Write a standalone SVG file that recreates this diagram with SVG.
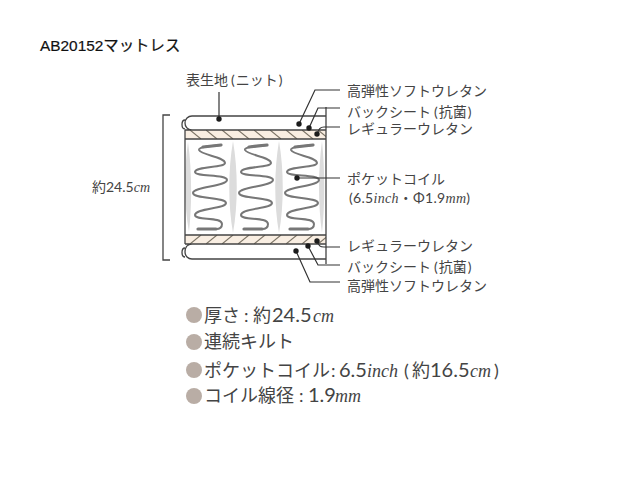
<svg xmlns="http://www.w3.org/2000/svg" width="640" height="480" viewBox="0 0 640 480">
<style>
.t{font-family:"Lato","Noto Sans CJK JP",sans-serif;font-weight:400;fill:#444;font-size:14px}
.w{letter-spacing:.3px}
.b{font-size:18px;fill:#444}
.n{font-size:20px}
.u{font-family:"Liberation Serif",serif;font-style:italic;font-weight:400}
.l{fill:none;stroke:#333;stroke-width:1.2}
.f{fill:none;stroke:#444;stroke-width:1.3}
.c{fill:none;stroke:#777;stroke-width:2}
.e{fill:none;stroke:#777;stroke-width:3.2;stroke-linecap:round}
.d{fill:#1c1c1c}
.s{fill:#dcdcdc}
.o{fill:#b9ada5}
</style>
<defs>
<pattern id="h1" width="16" height="9" patternUnits="userSpaceOnUse" patternTransform="translate(190 130)"><rect width="16" height="9" fill="#f9eee2"/><path d="M0 0L11 9" stroke="#7a7264" stroke-width="1.1"/></pattern>
<pattern id="h2" width="16" height="9" patternUnits="userSpaceOnUse" patternTransform="translate(190 235)"><rect width="16" height="9" fill="#f9eee2"/><path d="M0 9L11 0" stroke="#7a7264" stroke-width="1.1"/></pattern>
<g id="coil"><path class="c" d="M222 145C210 146 198 147 199 150C201 155 225 157 225 163C225 168 195 166 195 172C195 177 227 174 227 180C227 186 193 187 193 193C193 199 226 197 226 203C226 209 195 208 195 215C195 221 222 216 222 224C222 227 220 229 216 229"/><path class="e" d="M203 147L221 145M198 229L216 229"/></g>
</defs>
<g id="title"><text x="40" y="51" font-family="'Liberation Sans','Noto Sans CJK JP',sans-serif" font-size="15.4" fill="#111" stroke="#111" stroke-width=".2">AB20152マットレス</text></g>
<g id="mattress">
<rect x="185" y="130" width="141" height="114" fill="#fff"/>
<path class="s" d="M188 142C184 170 184 205 189 232C192 205 192 170 188 142ZM233 141C228 170 228 205 233 233C238 205 238 170 233 141ZM279 141C274 170 274 205 279 233C284 205 284 170 279 141ZM322 141C318 170 318 205 322 233C325 205 325 170 322 141Z"/>
<use href="#coil"/><use href="#coil" x="46"/><use href="#coil" x="92"/>
<rect x="185" y="130" width="141" height="9" fill="url(#h1)"/>
<rect x="185" y="235" width="141" height="9" fill="url(#h2)"/>
<path class="f" d="M326 130H192C187 130 185 126 185 123C185 119 188 116 192 116H326M185 130V244M326 107V264M185 130H326M185 139H326M185 235H326M185 244H326M326 259H192C188 259 185 256 185 252C185 248 187 244 192 244"/>
<path class="f" d="M185 120C181 120 181 129 185 129M185 248C181 248 181 257 185 257"/>
</g>
<g id="dimension"><path d="M170 115H163V260H170" fill="none" stroke="#444" stroke-width="1.3"/><text class="t" x="92" y="192">約24.5<tspan class="u">cm</tspan></text></g>
<g id="connectors">
<path class="l" d="M219 92V119"/><path class="l" d="M299 124L315 90H340"/><path class="l" d="M309 128L318 108H340"/><path class="l" d="M317 134C319 129 320 127 324 127H340"/>
<path class="l" d="M297 178H340"/>
<path class="l" d="M317 241C319 246 320 247 324 247H340"/><path class="l" d="M308 246L318 265H340"/><path class="l" d="M296 251L310 282H340"/>
<circle class="d" cx="219" cy="119" r="2.7"/><circle class="d" cx="299" cy="124" r="2.7"/><circle class="d" cx="309" cy="128" r="2.7"/><circle class="d" cx="317" cy="134" r="2.7"/><circle class="d" cx="297" cy="178" r="2.7"/><circle class="d" cx="317" cy="241" r="2.7"/><circle class="d" cx="308" cy="246" r="2.7"/><circle class="d" cx="296" cy="251" r="2.7"/>
</g>
<g id="labels">
<text class="t" x="186" y="85">表生地<tspan dx="3">(</tspan><tspan dx="1">ニット</tspan><tspan dx="1">)</tspan></text>
<text class="t" x="347" y="96">高弾性ソフトウレタン</text>
<text class="t" x="347" y="117">バックシート<tspan dx="3">(</tspan><tspan dx="1">抗菌</tspan><tspan dx="1">)</tspan></text>
<text class="t" x="347" y="134">レギュラーウレタン</text>
<text class="t" x="347" y="184">ポケットコイル</text>
<text class="t w" x="349" y="203">(6.5<tspan class="u">inch</tspan>・Φ1.9<tspan class="u">mm</tspan>)</text>
<text class="t" x="347" y="251">レギュラーウレタン</text>
<text class="t" x="347" y="272">バックシート<tspan dx="3">(</tspan><tspan dx="1">抗菌</tspan><tspan dx="1">)</tspan></text>
<text class="t" x="347" y="291">高弾性ソフトウレタン</text>
</g>
<g id="specs">
<circle class="o" cx="194" cy="315" r="8"/><circle class="o" cx="194" cy="342" r="8"/><circle class="o" cx="194" cy="370" r="8"/><circle class="o" cx="194" cy="396" r="8"/>
<text class="t b" x="204" y="322">厚さ<tspan x="244">:</tspan><tspan x="253">約</tspan><tspan class="n" x="272">24.5</tspan><tspan class="u" x="313">cm</tspan></text>
<text class="t b" x="204" y="348">連続キルト</text>
<text class="t b" x="204" y="377">ポケットコイル<tspan x="331">:</tspan><tspan class="n" x="339">6.5</tspan><tspan class="u" x="367">inch</tspan><tspan x="404">(</tspan><tspan x="412">約</tspan><tspan class="n" x="430">16.5</tspan><tspan class="u" x="470">cm</tspan><tspan x="494">)</tspan></text>
<text class="t b" x="204" y="402">コイル線径<tspan x="299">:</tspan><tspan class="n" x="308">1.9</tspan><tspan class="u" x="335">mm</tspan></text>
</g>
</svg>
